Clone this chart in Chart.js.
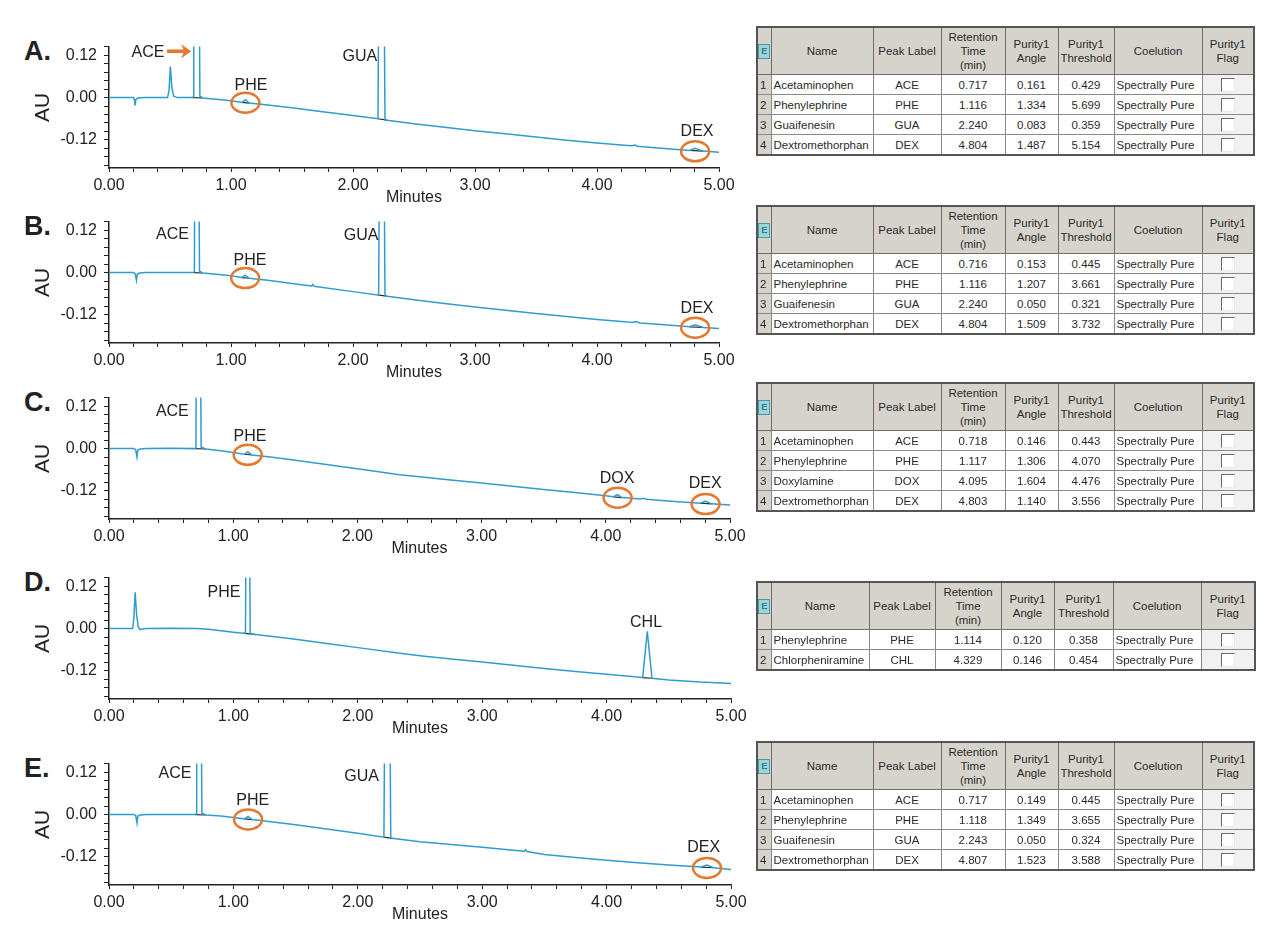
<!DOCTYPE html>
<html>
<head>
<meta charset="utf-8">
<script src="https://cdn.jsdelivr.net/npm/chart.js@4.4.0/dist/chart.umd.min.js"></script>
<style>
  body { margin: 0; background: #fff; }
  #fig { position: relative; width: 1280px; height: 951px; overflow: hidden; font-family: "Liberation Sans", Arial, sans-serif; }
  canvas { position: absolute; left: 0; }
  .letter { position: absolute; left: 24px; font: bold 27px "Liberation Sans", Arial, sans-serif; color: #222; line-height: 1; }
  table.pt { position: absolute; left: 756px; border-collapse: collapse; table-layout: fixed;
             font: 11.5px "Liberation Sans", Arial, sans-serif; color: #2a2a2a; border: 2px solid #555; }
  .pt th { background: #d6d3cc; font-weight: normal; border: 1px solid #6d6d6d; height: 46px; line-height: 14px; padding: 0; }
  .pt td { border: 1px solid #8a8a8a; height: 19px; padding: 0 2px; background: #fff; white-space: nowrap; overflow: hidden; }
  .pt td.num { background: #d6d3cc; padding: 0 2px; }
  .pt td.c { text-align: center; }
  .pt td.flag { background: #f1f1f1; text-align: center; }
  .box { display: inline-block; width: 12px; height: 12px; background: #fff; border-top: 1px solid #6a6a6a; border-left: 1px solid #6a6a6a;
         border-right: 1px solid #e8e8e8; border-bottom: 1px solid #e8e8e8; vertical-align: middle; }
  .ico { display: inline-block; width: 10px; height: 13px; background: #9ed3da; border: 1px solid #4a9aa5; color: #2d7f8a;
         font: bold 9px "Liberation Sans", Arial, sans-serif; line-height: 13px; text-align: center; }
</style>
</head>
<body>
<div id="fig"></div>
<script>
// chromatogram traces, [minutes, AU]
const traceA = [[0,0],[0.2,0],[0.207,-0.004],[0.213,-0.022],[0.22,-0.006],[0.235,-0.001],[0.3,0],[0.48,0],[0.492,0.02],[0.503,0.088],
  [0.515,0.03],[0.53,0.004],[0.56,0],[0.68,0],[0.69,0.002],[0.695,0.6],[0.735,0.6],[0.745,0.004],[0.77,-0.001],[0.9,-0.005],
  [1.0,-0.009],[1.09,-0.0135],[1.118,-0.006],[1.15,-0.0155],[1.3,-0.021],[1.5,-0.029],[1.75,-0.040],[2.0,-0.051],[2.205,-0.060],
  [2.215,0.6],[2.25,0.6],[2.262,-0.063],[2.28,-0.064],[2.5,-0.074],[2.75,-0.084],[3.0,-0.094],[3.25,-0.103],[3.5,-0.112],
  [3.75,-0.121],[4.0,-0.129],[4.25,-0.136],[4.29,-0.137],[4.31,-0.135],[4.33,-0.138],[4.5,-0.143],[4.76,-0.150],[4.804,-0.144],
  [4.87,-0.152],[5.0,-0.155]]
const traceB = [[0,0],[0.2,0],[0.215,-0.003],[0.225,-0.022],[0.232,-0.004],[0.25,-0.001],[0.3,0],[0.5,0],[0.69,0],[0.70,0.002],
  [0.705,0.6],[0.73,0.6],[0.742,0.004],[0.77,-0.001],[0.9,-0.005],[1.0,-0.009],[1.09,-0.014],[1.116,-0.007],[1.15,-0.016],
  [1.3,-0.022],[1.5,-0.031],[1.66,-0.038],[1.67,-0.034],[1.68,-0.039],[2.0,-0.054],[2.21,-0.064],[2.222,0.6],[2.25,0.6],
  [2.262,-0.066],[2.28,-0.067],[2.5,-0.077],[2.75,-0.088],[3.0,-0.098],[3.25,-0.107],[3.5,-0.116],[3.75,-0.125],[4.0,-0.133],
  [4.25,-0.140],[4.3,-0.141],[4.32,-0.139],[4.35,-0.143],[4.5,-0.147],[4.76,-0.154],[4.804,-0.148],[4.87,-0.156],[5.0,-0.159]]
const traceC = [[0,0],[0.2,0],[0.215,-0.003],[0.225,-0.024],[0.232,-0.004],[0.25,-0.001],[0.3,0],[0.5,0.001],[0.69,0],[0.70,0.002],
  [0.705,0.6],[0.73,0.6],[0.742,0.004],[0.78,-0.001],[0.9,-0.006],[1.0,-0.011],[1.09,-0.016],[1.117,-0.009],[1.15,-0.018],
  [1.3,-0.024],[1.5,-0.033],[1.75,-0.045],[2.0,-0.057],[2.34,-0.074],[2.5,-0.080],[2.75,-0.089],[3.0,-0.098],[3.25,-0.107],
  [3.5,-0.116],[3.75,-0.125],[4.0,-0.134],[4.06,-0.137],[4.095,-0.131],[4.13,-0.139],[4.28,-0.143],[4.3,-0.141],[4.33,-0.144],
  [4.5,-0.149],[4.76,-0.155],[4.803,-0.149],[4.85,-0.157],[5.0,-0.160]]
const traceD = [[0,0],[0.19,0],[0.2,0.03],[0.21,0.103],[0.222,0.04],[0.235,0.005],[0.25,-0.003],[0.27,-0.001],[0.3,0],[0.5,0.001],
  [0.7,0],[0.8,-0.002],[0.9,-0.006],[1.0,-0.010],[1.08,-0.013],[1.097,-0.014],[1.105,0.6],[1.125,0.6],[1.135,-0.015],[1.18,-0.017],
  [1.3,-0.022],[1.5,-0.030],[1.75,-0.042],[2.0,-0.054],[2.34,-0.070],[2.5,-0.077],[2.75,-0.086],[3.0,-0.095],[3.25,-0.104],
  [3.5,-0.113],[3.75,-0.122],[4.0,-0.130],[4.29,-0.139],[4.327,-0.008],[4.365,-0.141],[4.5,-0.146],[4.75,-0.152],[5.0,-0.156]]
const traceE = [[0,0],[0.2,0],[0.215,-0.003],[0.225,-0.024],[0.232,-0.004],[0.25,-0.001],[0.3,0],[0.5,0],[0.69,0],[0.70,0.002],
  [0.705,0.6],[0.735,0.6],[0.747,0.004],[0.78,-0.001],[0.9,-0.004],[1.0,-0.008],[1.09,-0.012],[1.118,-0.005],[1.15,-0.014],
  [1.3,-0.020],[1.5,-0.029],[1.75,-0.041],[2.0,-0.053],[2.21,-0.064],[2.222,0.6],[2.252,0.6],[2.265,-0.067],[2.29,-0.068],
  [2.5,-0.077],[2.75,-0.085],[3.0,-0.093],[3.25,-0.101],[3.34,-0.104],[3.35,-0.100],[3.36,-0.105],[3.5,-0.113],[3.75,-0.122],
  [4.0,-0.130],[4.25,-0.137],[4.5,-0.143],[4.76,-0.149],[4.807,-0.143],[4.86,-0.151],[5.0,-0.156]]

// integration baselines: [start, end] in minutes (both are points of the trace)
const marksA = [[0.68,0.77],[1.09,1.15],[2.205,2.28],[4.76,4.87]]
const marksB = [[0.69,0.77],[1.09,1.15],[2.21,2.28],[4.76,4.87]]
const marksC = [[0.69,0.78],[1.09,1.15],[4.06,4.13],[4.76,4.85]]
const marksD = [[1.08,1.18],[4.29,4.365]]
const marksE = [[0.69,0.78],[1.09,1.15],[2.21,2.29],[4.76,4.86]]

// peak labels [text, minutes, AU]
const labelsA = [['ACE',0.32,0.129],['PHE',1.164,0.035],['GUA',2.057,0.118],['DEX',4.82,-0.097]]
const labelsB = [['ACE',0.52,0.109],['PHE',1.156,0.035],['GUA',2.066,0.104],['DEX',4.82,-0.101]]
const labelsC = [['ACE',0.51,0.106],['PHE',1.135,0.033],['DOX',4.09,-0.085],['DEX',4.80,-0.098]]
const labelsD = [['PHE',0.924,0.101],['CHL',4.317,0.016]]
const labelsE = [['ACE',0.53,0.117],['PHE',1.156,0.041],['GUA',2.03,0.109],['DEX',4.78,-0.093]]

// circled peaks (minutes)
const circledA = [1.118, 4.804]
const circledB = [1.116, 4.804]
const circledC = [1.117, 4.095, 4.803]
const circledD = []
const circledE = [1.118, 4.807]

// peak tables: name, peak label, retention time, purity angle, purity threshold
const tableA = [['Acetaminophen','ACE','0.717','0.161','0.429'],['Phenylephrine','PHE','1.116','1.334','5.699'],
  ['Guaifenesin','GUA','2.240','0.083','0.359'],['Dextromethorphan','DEX','4.804','1.487','5.154']]
const tableB = [['Acetaminophen','ACE','0.716','0.153','0.445'],['Phenylephrine','PHE','1.116','1.207','3.661'],
  ['Guaifenesin','GUA','2.240','0.050','0.321'],['Dextromethorphan','DEX','4.804','1.509','3.732']]
const tableC = [['Acetaminophen','ACE','0.718','0.146','0.443'],['Phenylephrine','PHE','1.117','1.306','4.070'],
  ['Doxylamine','DOX','4.095','1.604','4.476'],['Dextromethorphan','DEX','4.803','1.140','3.556']]
const tableD = [['Phenylephrine','PHE','1.114','0.120','0.358'],['Chlorpheniramine','CHL','4.329','0.146','0.454']]
const tableE = [['Acetaminophen','ACE','0.717','0.149','0.445'],['Phenylephrine','PHE','1.118','1.349','3.655'],
  ['Guaifenesin','GUA','2.243','0.050','0.324'],['Dextromethorphan','DEX','4.807','1.523','3.588']]
const coelution = 'Spectrally Pure'

const TRACE = '#2f9ccf'
const ORANGE = '#e2792f'
const FONT = '"Liberation Sans", Arial, sans-serif'

const panels = [
  {key:'A', trace:traceA, marks:marksA, labels:labelsA, circled:circledA, arrow:true, top:42, right:719, table:tableA, tTop:26, cols:[14,102,68,64,53,56,88,52]},
  {key:'B', trace:traceB, marks:marksB, labels:labelsB, circled:circledB, top:217, right:719, table:tableB, tTop:205, cols:[14,102,68,64,53,56,88,52]},
  {key:'C', trace:traceC, marks:marksC, labels:labelsC, circled:circledC, top:393, right:730, table:tableC, tTop:382, cols:[14,102,68,64,53,56,88,52]},
  {key:'D', trace:traceD, marks:marksD, labels:labelsD, circled:circledD, top:573, right:731, table:tableD, tTop:581, cols:[14,98,66,66,53,59,88,54]},
  {key:'E', trace:traceE, marks:marksE, labels:labelsE, circled:circledE, top:759, right:731, table:tableE, tTop:741, cols:[14,102,68,64,53,56,88,52]}
]

const fig = document.getElementById('fig')

function pointAt(trace, t){
    let best = trace[0]
    trace.forEach(p => { if (Math.abs(p[0]-t) < Math.abs(best[0]-t)) best = p })
    return best
}

const notesPlugin = {
    id: 'notes',
    afterDatasetsDraw(chart, args, opts){
        const ctx = chart.ctx
        const x = chart.scales.x, y = chart.scales.y
        ctx.save()
        ctx.font = '16px ' + FONT
        ctx.fillStyle = '#222'
        ctx.textAlign = 'center'
        ctx.textBaseline = 'middle'
        opts.labels.forEach(l => ctx.fillText(l[0], x.getPixelForValue(l[1]), y.getPixelForValue(l[2])))

        ctx.strokeStyle = ORANGE
        ctx.lineWidth = 2.5
        opts.circled.forEach(t => {
            const p = pointAt(opts.trace, t)
            ctx.beginPath()
            ctx.ellipse(x.getPixelForValue(p[0]), y.getPixelForValue(p[1]) + 3, 14, 10, 0, 0, Math.PI*2)
            ctx.stroke()
        })

        if (opts.arrow){
            const l = opts.labels[0]
            const ay = y.getPixelForValue(l[2]) - 1
            const x0 = x.getPixelForValue(l[1]) + 19
            const x1 = x.getPixelForValue(0.69) - 2
            ctx.fillStyle = ORANGE
            ctx.lineWidth = 3.5
            ctx.beginPath(); ctx.moveTo(x0, ay); ctx.lineTo(x1 - 6, ay); ctx.stroke()
            ctx.beginPath(); ctx.moveTo(x1, ay); ctx.lineTo(x1 - 10, ay - 7); ctx.lineTo(x1 - 7, ay); ctx.lineTo(x1 - 10, ay + 7); ctx.closePath(); ctx.fill()
        }
        ctx.restore()
    }
}

function yTicks(){
    const out = []
    for (let i = -8; i <= 6; i++) out.push({value: Math.round(i*24)/1000})
    return out
}
function xTicks(){
    const out = []
    for (let i = 0; i <= 25; i++) out.push({value: Math.round(i*2)/10})
    return out
}

panels.forEach(p => {
    const letter = document.createElement('div')
    letter.className = 'letter'
    letter.style.top = (p.top - 4) + 'px'
    letter.textContent = p.key + '.'
    fig.appendChild(letter)

    const cv = document.createElement('canvas')
    cv.width = p.right + 30
    cv.height = 182
    cv.style.top = (p.top - 12) + 'px'
    fig.appendChild(cv)

    const markData = []
    p.marks.forEach(m => {
        const a = pointAt(p.trace, m[0]), b = pointAt(p.trace, m[1])
        markData.push({x:a[0], y:a[1]}, {x:b[0], y:b[1]}, {x:b[0], y:null})
    })

    new Chart(cv.getContext('2d'), {
        type: 'line',
        data: {
            datasets: [{
                data: p.trace.map(q => ({x:q[0], y:q[1]})),
                borderColor: TRACE,
                borderWidth: 1.5,
                pointRadius: 0,
                tension: 0
            }, {
                data: markData,
                borderColor: '#2a2a2a',
                borderWidth: 1.2,
                pointRadius: 0,
                spanGaps: false
            }]
        },
        options: {
            responsive: false,
            animation: false,
            layout: {padding: {top: 12, right: 30, left: 0, bottom: 0}},
            plugins: {
                legend: {display: false},
                tooltip: {enabled: false},
                notes: {labels: p.labels, circled: p.circled, trace: p.trace, arrow: !!p.arrow}
            },
            scales: {
                x: {
                    type: 'linear', min: 0, max: 5,
                    afterBuildTicks: s => { s.ticks = xTicks() },
                    afterFit: s => { s.height = 44 },
                    border: {color: '#222', width: 1.5},
                    grid: {drawOnChartArea: false, tickLength: 4, tickColor: '#222', tickWidth: 1},
                    ticks: {
                        autoSkip: false, maxRotation: 0, padding: 4, color: '#222',
                        font: {size: 16, family: FONT},
                        callback: v => Math.abs(v - Math.round(v)) < 1e-6 ? v.toFixed(2) : ''
                    },
                    title: {display: true, text: 'Minutes', color: '#222', font: {size: 16, family: FONT}, padding: {top: 0, bottom: 5}}
                },
                y: {
                    min: -0.2, max: 0.145,
                    afterBuildTicks: s => { s.ticks = yTicks() },
                    afterFit: s => { s.width = 109 },
                    border: {color: '#222', width: 1.5},
                    grid: {drawOnChartArea: false, tickLength: 5, tickColor: '#222', tickWidth: 1},
                    ticks: {
                        autoSkip: false, padding: 7, color: '#222',
                        font: {size: 16, family: FONT},
                        callback: v => Math.abs(v/0.12 - Math.round(v/0.12)) < 1e-6 ? v.toFixed(2) : ''
                    },
                    title: {display: true, text: 'AU', color: '#222', font: {size: 21, family: FONT}, padding: {top: 31, bottom: 0}}
                }
            }
        },
        plugins: [notesPlugin]
    })

    // peak table
    const tb = document.createElement('table')
    tb.className = 'pt'
    tb.style.top = p.tTop + 'px'
    tb.style.width = p.cols.reduce((a, b) => a + b, 0) + 'px'
    let html = '<colgroup>' + p.cols.map(w => '<col style="width:' + w + 'px">').join('') + '</colgroup>'
    html += '<tr><th><span class="ico">E</span></th><th>Name</th><th>Peak Label</th><th>Retention<br>Time<br>(min)</th>' +
            '<th>Purity1<br>Angle</th><th>Purity1<br>Threshold</th><th>Coelution</th><th>Purity1<br>Flag</th></tr>'
    p.table.forEach((r, i) => {
        html += '<tr><td class="num">' + (i + 1) + '</td><td>' + r[0] + '</td><td class="c">' + r[1] + '</td><td class="c">' + r[2] +
                '</td><td class="c">' + r[3] + '</td><td class="c">' + r[4] + '</td><td>' + coelution +
                '</td><td class="flag"><span class="box"></span></td></tr>'
    })
    tb.innerHTML = html
    fig.appendChild(tb)
})
</script>
</body>
</html>
